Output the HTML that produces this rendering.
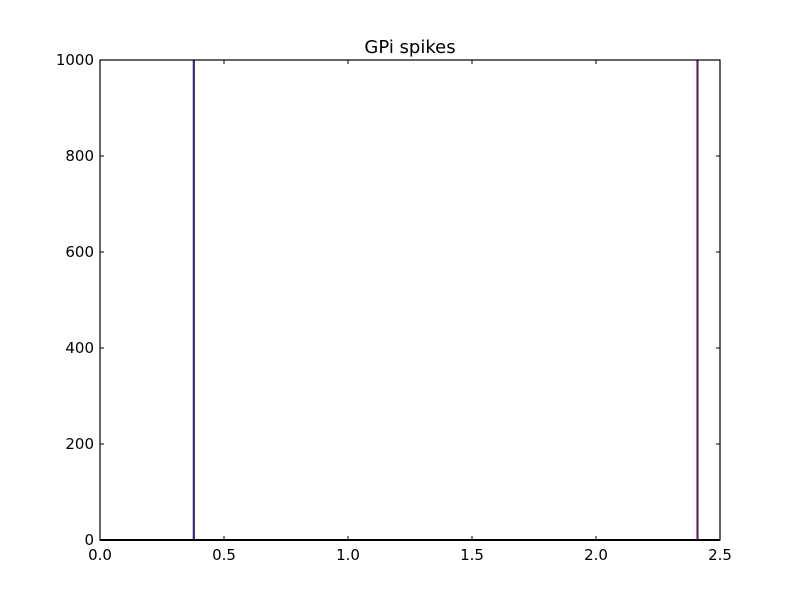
<!DOCTYPE html>
<html><head><meta charset="utf-8"><style>
body{margin:0;background:#fff;}
svg text{font-family:"DejaVu Sans","Liberation Sans",sans-serif;}
</style></head><body>
<svg id="chart" width="800" height="600" xmlns="http://www.w3.org/2000/svg">
<rect width="800" height="600" fill="#fff"/>
<text x="410" y="53" font-size="18" text-anchor="middle">GPi spikes</text>
<g id="marks"></g>
<rect x="100" y="60" width="620" height="480" fill="none" stroke="#000" stroke-width="1.2"/>
<g id="axes"></g>
</svg>
<script>
const xTicks=[0.0,0.5,1.0,1.5,2.0,2.5];
const xTickLabels=["0.0","0.5","1.0","1.5","2.0","2.5"];
const yTicks=[0,200,400,600,800,1000];
const yTickLabels=["0","200","400","600","800","1000"];
const spikeTimes=[0.376,0.379,0.380,2.407,2.410,2.411];
const spikeHeights=[1000,1000,1000,1000,1000,1000];
const spikeColors=["#0000ff","#bfbf00","#000000","#7f007f","#bfbf00","#000000"];
const X0=100,X1=720,Y0=540,Y1=60;
const sx=v=>X0+(v-0)/(2.5-0)*(X1-X0);
const sy=v=>Y0-(v-0)/(1000-0)*(Y0-Y1);
const NS="http://www.w3.org/2000/svg";
const marks=document.getElementById('marks'),axes=document.getElementById('axes');
function mk(tag,attrs,parent){const e=document.createElementNS(NS,tag);for(const k in attrs)e.setAttribute(k,attrs[k]);parent.appendChild(e);return e;}
const base=mk('line',{x1:sx(0),x2:sx(2.5),y1:sy(0),y2:sy(0),stroke:'#000','stroke-width':2},marks);


spikeTimes.forEach((t,i)=>{
 const l=mk('line',{x1:sx(t),x2:sx(t),y1:sy(0),y2:sy(spikeHeights[i]),stroke:spikeColors[i],'stroke-width':1},marks);
 
 
});
xTicks.forEach((v,i)=>{
 const x=sx(v);
 mk('line',{x1:x,x2:x,y1:Y0,y2:Y0-4,stroke:'#000'},axes);
 mk('line',{x1:x,x2:x,y1:Y1,y2:Y1+4,stroke:'#000'},axes);
 const t=mk('text',{x:x,y:Y0+20,'font-size':15,'text-anchor':'middle'},axes);
 t.textContent=xTickLabels[i];
 
 
});
yTicks.forEach((v,i)=>{
 const y=sy(v);
 mk('line',{x1:X0,x2:X0+4,y1:y,y2:y,stroke:'#000'},axes);
 mk('line',{x1:X1,x2:X1-4,y1:y,y2:y,stroke:'#000'},axes);
 const t=mk('text',{x:X0-6,y:y+5,'font-size':15,'text-anchor':'end'},axes);
 t.textContent=yTickLabels[i];
 
 
});
</script>
</body></html>
